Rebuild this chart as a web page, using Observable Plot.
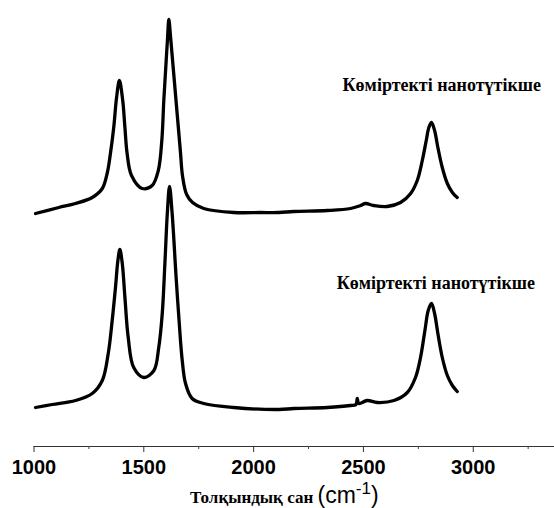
<!DOCTYPE html>
<html><head><meta charset="utf-8">
<script src="https://cdn.jsdelivr.net/npm/d3@7"></script>
<script src="https://cdn.jsdelivr.net/npm/@observablehq/plot@0.6"></script>
<style>
html,body{margin:0;padding:0;background:#fff;}
#chart svg{display:block;}
</style>
</head><body><div id="chart"></div>
<script>
// Upper spectrum (wavenumber cm-1, intensity a.u. with vertical offset)
const topWavenumber = [1007,1113,1189,1265,1311,1333,1348,1363,1376,1389,1404,1414,1424,1444,1493,1538,1566,1582,1591,1600,1608,1614,1622,1631,1640,1649,1658,1667,1676,1695,1722,1773,1910,2031,2115,2183,2335,2441,2487,2510,2547,2608,2669,2715,2745,2768,2786,2798,2810,2824,2839,2859,2882,2905,2927];
const topIntensity  = [233,239,243,249,258,273,293,319,349,366,346,319,293,271,258,261,276,306,346,379,408,427,409,386,363,340,317,294,271,252,244,238,234,234,234,235,236,238,241,243,241,240,244,253,266,286,306,319,324,316,299,279,263,254,249];
// Lower spectrum
const bottomWavenumber = [1007,1083,1189,1265,1311,1338,1356,1371,1382,1391,1402,1414,1429,1454,1500,1546,1568,1584,1596,1607,1617,1629,1648,1667,1675,1690,1720,1773,1910,2115,2183,2335,2441,2466,2472,2479,2517,2563,2639,2700,2737,2760,2780,2795,2810,2824,2839,2859,2882,2905,2927];
const bottomIntensity  = [39,42,46,53,66,93,126,159,186,197,183,149,109,79,69,76,99,133,183,233,260,233,166,106,86,63,48,43,39,37,38,39,41,42,48,43,46,44,46,54,69,89,116,136,143,133,113,89,71,61,55];
// Axis ticks
const majorTicks = [1000,1500,2000,2500,3000];
const minorTicks = [1250,1750,2250,2750,3250];
// Labels
const seriesLabels = ["Көміртекті нанотүтікше","Көміртекті нанотүтікше"];
const labelWavenumber = [2405,2378];
const labelIntensity = [361,163];
const xLabelText = "Толқындық сан";
const xLabelUnit = "cm";
const xLabelExp = "-1";

const serif = "'Liberation Serif', 'Times New Roman', serif";
const sans = "'Liberation Sans', Arial, sans-serif";

const topData = topWavenumber.map((w,i)=>({w, v: topIntensity[i]}));
const bottomData = bottomWavenumber.map((w,i)=>({w, v: bottomIntensity[i]}));
const labelData = seriesLabels.map((t,i)=>({t, w: labelWavenumber[i], v: labelIntensity[i]}));

const chart = Plot.plot({
  width: 554, height: 508,
  marginLeft: 33.5, marginRight: 0, marginTop: 10, marginBottom: 62,
  x: {domain: [1000, 3370], label: null},
  y: {domain: [0, 436], axis: null},
  style: {fontFamily: sans, color: "black", background: "white", overflow: "visible"},
  marks: [
    Plot.ruleY([0], {stroke: "#333", strokeWidth: 1.2}),
    Plot.axisX(minorTicks, {tickSize: 3, tickFormat: () => "", stroke: "#444", label: null}),
    Plot.axisX(majorTicks, {tickSize: 6, tickPadding: 7, tickFormat: d3.format("d"), stroke: "#333", fill: "black", fontSize: 20, fontWeight: "bold", label: null}),
    Plot.line(topData, {x: "w", y: "v", curve: "catmull-rom", stroke: "black", strokeWidth: 3.3}),
    Plot.line(bottomData, {x: "w", y: "v", curve: "catmull-rom", stroke: "black", strokeWidth: 3.3}),
    Plot.text(labelData, {x: "w", y: "v", text: "t", textAnchor: "start", fontWeight: "bold", fontSize: 18, fill: "black"})
  ]
});

const svg = d3.select(chart);
svg.selectAll("g[aria-label='text'] text")
  .style("font-family", serif)
  .style("font-weight", "bold");

const t = svg.append("text")
  .attr("x", 190).attr("y", 503)
  .attr("text-anchor", "start")
  .attr("fill", "black");
t.append("tspan").text(xLabelText + " ")
  .style("font-family", serif)
  .attr("font-weight", "bold").attr("font-size", 17);
t.append("tspan").text("(" + xLabelUnit)
  .style("font-family", sans)
  .attr("font-size", 23);
t.append("tspan").text(xLabelExp)
  .style("font-family", sans)
  .attr("font-size", 17).attr("dy", -9);
t.append("tspan").text(")")
  .style("font-family", sans)
  .attr("font-size", 23).attr("dy", 9);

document.getElementById("chart").appendChild(chart);
</script>
</body></html>
